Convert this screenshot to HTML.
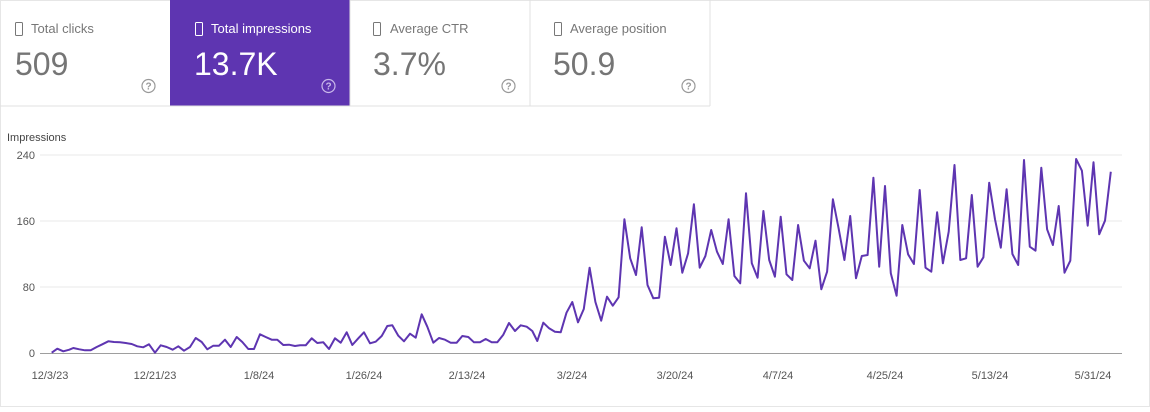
<!DOCTYPE html>
<html><head><meta charset="utf-8"><style>
html,body{margin:0;padding:0;background:#fff;}
body{width:1150px;height:407px;overflow:hidden;font-family:"Liberation Sans",Arial,sans-serif;}
</style></head><body>
<svg width="1150" height="407" xmlns="http://www.w3.org/2000/svg" font-family="Liberation Sans, Arial, sans-serif">
<rect x="0.5" y="0.5" width="1149" height="406" fill="#fff" stroke="#e6e6e6"/>
<rect x="170" y="0" width="180" height="106" fill="#5e35b1"/>
<line x1="350" y1="0" x2="350" y2="106" stroke="#e0e0e0"/>
<line x1="530" y1="0" x2="530" y2="106" stroke="#e0e0e0"/>
<line x1="710" y1="0" x2="710" y2="106" stroke="#e0e0e0"/>
<line x1="0" y1="106" x2="710" y2="106" stroke="#e0e0e0"/>
<g font-size="13">
<rect x="15.5" y="22.5" width="7" height="13" rx="1" fill="none" stroke="#777"/>
<text x="31" y="33" fill="#777">Total clicks</text>
<rect x="195.5" y="22.5" width="7" height="13" rx="1" fill="none" stroke="#fff"/>
<text x="211" y="33" fill="#fff">Total impressions</text>
<rect x="373.5" y="22.5" width="7" height="13" rx="1" fill="none" stroke="#777"/>
<text x="390" y="33" fill="#777">Average CTR</text>
<rect x="554.5" y="22.5" width="7" height="13" rx="1" fill="none" stroke="#777"/>
<text x="570" y="33" fill="#777">Average position</text>
</g>
<g font-size="32">
<text x="15" y="75" fill="#757575">509</text>
<text x="194" y="75" fill="#fff">13.7K</text>
<text x="373" y="75" fill="#757575">3.7%</text>
<text x="553" y="75" fill="#757575">50.9</text>
</g>
<g font-size="10" text-anchor="middle" font-weight="bold">
<circle cx="148.5" cy="86" r="6.5" fill="none" stroke="#999" stroke-width="1.2"/><text x="148.5" y="89.5" fill="#999">?</text>
<circle cx="328.5" cy="86" r="6.5" fill="none" stroke="#c9b8ea" stroke-width="1.2"/><text x="328.5" y="89.5" fill="#c9b8ea">?</text>
<circle cx="508.5" cy="86" r="6.5" fill="none" stroke="#999" stroke-width="1.2"/><text x="508.5" y="89.5" fill="#999">?</text>
<circle cx="688.5" cy="86" r="6.5" fill="none" stroke="#999" stroke-width="1.2"/><text x="688.5" y="89.5" fill="#999">?</text>
</g>
<text x="7" y="141" font-size="11" fill="#444">Impressions</text>
<g stroke="#e8e8e8">
<line x1="40" y1="155" x2="1122" y2="155"/>
<line x1="40" y1="221" x2="1122" y2="221"/>
<line x1="40" y1="287" x2="1122" y2="287"/>
</g>
<line x1="40" y1="353.5" x2="1122" y2="353.5" stroke="#9e9e9e"/>
<g font-size="11" fill="#555" text-anchor="end">
<text x="35" y="159">240</text><text x="35" y="225">160</text><text x="35" y="291">80</text><text x="35" y="357">0</text>
</g>
<g font-size="11" fill="#555" text-anchor="middle">
<text x="50" y="379">12/3/23</text><text x="155" y="379">12/21/23</text><text x="259" y="379">1/8/24</text>
<text x="364" y="379">1/26/24</text><text x="467" y="379">2/13/24</text><text x="572" y="379">3/2/24</text>
<text x="675" y="379">3/20/24</text><text x="778" y="379">4/7/24</text><text x="885" y="379">4/25/24</text>
<text x="990" y="379">5/13/24</text><text x="1093" y="379">5/31/24</text>
</g>
<polyline fill="none" stroke="#5e35b1" stroke-width="2" stroke-linejoin="round" points="51.7,352.7 57.3,348.7 63.3,351.3 69.3,349.7 73.3,348 79.3,349.3 85,350.3 90.7,350.3 96.7,347 102.3,344.3 108.3,341.3 114,342 120,342.3 125.7,343 131.7,344 137.3,346.3 143.3,347.3 149,344.3 155,352.7 160.7,345.3 166.7,347 172.7,349.7 178.3,346.3 184,350.7 190,347 195.7,338 201.7,342 207.3,349.3 213.3,345.7 219,345.7 225,339.7 230.7,347 236.7,337 242.3,342 248.3,349 254,349 260,334.3 265.7,337 271.7,339.7 277.3,339.7 283.3,345 289,344.7 295,346 300,345.3 305.7,345.3 311.7,338.3 317.3,343 323.3,342.3 329,349 335,338.3 340.7,342.7 346.7,332.3 352.3,345 358.3,338.3 364,332.3 370,343.3 375.7,341.7 381.7,336 387.3,326 392.3,325.3 398.3,335.7 404,341.3 410,333.7 415.7,337.7 421.7,314.3 427.3,326.7 433.3,342.7 439,338 445,339.7 450.7,342.7 456.7,342.7 462.3,336 468.3,337 474,342.3 480,342.3 485.7,339 491.7,342.3 497.3,342.3 503.3,334.7 509,323 515,331 520.7,325.3 526.7,326.7 532.3,331 537.3,341
543.3,322.7 549.1,328.3 554.9,331.7 560.7,332.3 566.5,312.7 572.3,302 578.0,322.3 583.8,309 589.6,267.7 595.4,302 601.2,320.7 607.0,296.7 612.8,305.7 618.6,297.3 624.4,219.3 630.2,258.3 636.0,275 641.7,227.3 647.5,285 653.3,298.3 659.1,297.7 664.9,236.7 670.7,265 676.5,228.3 682.3,272.7 688.1,253.3 693.9,204.3 699.7,267.7 705.4,256 711.2,230 717.0,251.7 722.8,264 728.6,219.3 734.4,276 740.2,283.3 746.0,193.3 751.8,263.3 757.6,277.7 763.4,211 769.2,260 774.9,276.7 780.7,216.7 786.5,274.3 792.3,280 798.1,225 803.9,260.7 809.7,268.3 815.5,240.7 821.3,289.3 827.1,271.7 832.9,199.3 838.6,228.3 844.4,260 850.2,216 856.0,278.3 861.8,256 867.6,255 873.4,177.7 879.2,266.7 885.0,186 890.8,273.3 896.6,295.7 902.3,225 908.1,254.3 913.9,264 919.7,190 925.5,267.7 931.3,271.7 937.1,212.3 942.9,263.3 948.7,231.7 954.5,165 960.3,260 966.1,258.3 971.8,195 977.6,266.7 983.4,257.3 989.2,182.7 995.0,219.3 1000.8,247.7 1006.6,189.3 1012.4,254 1018.2,265 1024.0,160 1029.8,246.7 1035.5,250.7 1041.3,167.7 1047.1,229.3 1052.9,245 1058.7,206 1064.5,272.7 1070.3,260.7 1076.1,159 1081.9,170.7 1087.7,225.7 1093.5,162.3 1099.2,234.3 1105.0,220.7 1110.8,171.7"/>
</svg>
</body></html>
